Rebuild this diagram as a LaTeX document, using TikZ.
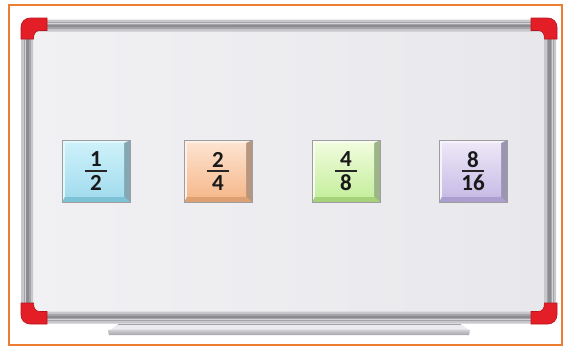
\documentclass[tikz,border=0pt]{standalone}
\usepackage{fontspec}
\setsansfont{Carlito}
\usetikzlibrary{calc}
\definecolor{edgeorange}{HTML}{ED7D31}
\definecolor{boardL}{HTML}{F1F1F4}
\definecolor{boardR}{HTML}{E8E8EC}
\definecolor{railA}{HTML}{C8C8CC}
\definecolor{railB}{HTML}{A4A4A8}
\definecolor{railC}{HTML}{8C8C90}
\definecolor{railD}{HTML}{D4D4D8}
\definecolor{cornerred}{HTML}{E41E26}
\definecolor{cornerdark}{HTML}{B8141C}
\definecolor{trayTop}{HTML}{ECECEE}
\definecolor{trayLow}{HTML}{A6A6AA}
\definecolor{cardEdge}{HTML}{9E9E9E}
\definecolor{blueTop}{HTML}{CDF1FA}
\definecolor{blueBot}{HTML}{A3DCEE}
\definecolor{blueLight}{HTML}{E3F8FD}
\definecolor{blueDark}{HTML}{83A8B3}
\definecolor{blueLow}{HTML}{7EC3D5}
\definecolor{peachTop}{HTML}{FDE3D0}
\definecolor{peachBot}{HTML}{F6B98D}
\definecolor{peachLight}{HTML}{FEF1E7}
\definecolor{peachDark}{HTML}{B6967F}
\definecolor{peachLow}{HTML}{DDA073}
\definecolor{greenTop}{HTML}{F0FCDD}
\definecolor{greenBot}{HTML}{C6EF9E}
\definecolor{greenLight}{HTML}{F8FDEF}
\definecolor{greenDark}{HTML}{9CB488}
\definecolor{greenLow}{HTML}{A6D27C}
\definecolor{lilacTop}{HTML}{EDE7F7}
\definecolor{lilacBot}{HTML}{C8BCE6}
\definecolor{lilacLight}{HTML}{F6F3FC}
\definecolor{lilacDark}{HTML}{9C94B3}
\definecolor{lilacLow}{HTML}{AC9ECF}

\begin{document}
\begin{tikzpicture}[x=1pt,y=-1pt,
  fracnum/.style={font=\sffamily\bfseries\fontsize{23}{25}\selectfont,inner sep=0pt,text=black!90},
  fracbar/.style={line width=1.8pt,black!85},
  redcorner/.style={fill=cornerred,draw=cornerdark,line width=0.6pt}]
  \useasboundingbox (0,0) rectangle (563,348);
  \draw[edgeorange,line width=2pt] (9,5) rectangle (562,345);

  % board and frame
  \shade[left color=boardL,right color=boardR] (27,25) rectangle (550,318);
  \draw[railA,line width=12pt,rounded corners=2] (27,25.5) rectangle (550,317.5);
  \draw[railB,line width=7pt] (27,25.5) rectangle (550,317.5);
  \draw[railC,line width=2.5pt] (27.5,26) rectangle (549.5,317);
  \draw[railD,line width=1pt] (25,23.5) rectangle (552,319.5);

  % tray
  \fill[trayTop] (108,332) -- (118,324) -- (461,324) -- (470,331) -- (470,334) -- (108,334) -- cycle;
  \shade[top color=railD,bottom color=trayLow] (108,329.5) -- (470,329.5) -- (469,335) -- (109,335) -- cycle;
  \draw[railB,line width=0.6pt] (118,324) -- (461,324);

  \foreach \sx/\sy/\ox/\oy in {1/1/21/18,-1/1/557/18,1/-1/21/324,-1/-1/557/324}{
    \filldraw[redcorner,shift={(\ox,\oy)},xscale=\sx,yscale=\sy]
      (0,21) [rounded corners=9] -- (0,0) [sharp corners] -- (26,0) -- (26,12.5) -- (19,12.5)
      .. controls (15,12.5) and (12.5,15) .. (12.5,21) -- cycle;
  }

  % fraction cards
  \foreach \n/\d/\cx/\col in {1/2/96/blue,2/4/218/peach,4/8/346/green,8/16/473/lilac}{
    \fill[\col Dark] (\cx-34,140) rectangle (\cx+34,202);
    \fill[\col Low] (\cx-34,202) -- (\cx-31,196.5) -- (\cx+28,196.5) -- (\cx+34,202) -- cycle;
    \fill[\col Light] (\cx-34,140) -- (\cx+34,140) -- (\cx+28,143) -- (\cx-31,143)
      -- (\cx-31,196.5) -- (\cx-34,202) -- cycle;
    \shade[top color=\col Top,bottom color=\col Bot] (\cx-31,143) rectangle (\cx+28,196.5);
    \draw[cardEdge,line width=0.8pt] (\cx-34,140) rectangle (\cx+34,202);
    \node[fracnum] (num\n) at (\cx,159.5) {\n};
    \node[fracnum] (den\n) at (\cx,183) {\d};
    \draw[fracbar] (\cx-11,171) -- (\cx+11,171);
  }
\end{tikzpicture}
\end{document}
